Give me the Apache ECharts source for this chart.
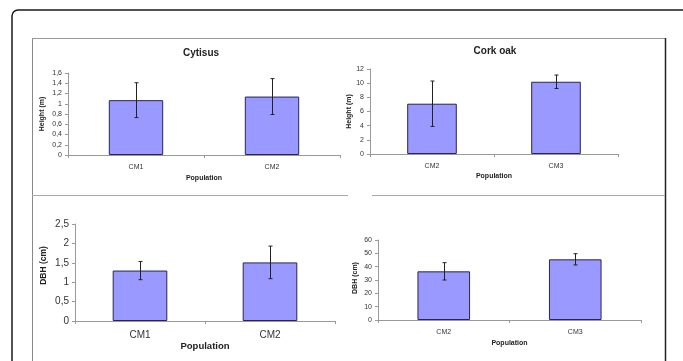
<!DOCTYPE html>
<html><head><meta charset="utf-8">
<script src="https://cdn.jsdelivr.net/npm/echarts@6/dist/echarts.min.js"></script>
<style>html,body{margin:0;padding:0;background:#fff}#c{width:683px;height:361px}</style>
</head><body><div id="c"></div>
<script>
// Data
const titles = ['Cytisus', 'Cork oak', '', ''];
const cats1 = ['CM1', 'CM2'];
const cats2 = ['CM2', 'CM3'];
const cats3 = ['CM1', 'CM2'];
const cats4 = ['CM2', 'CM3'];
const height1 = [1.07, 1.14];
const heightErr1 = [0.34, 0.35];
const height2 = [7.1, 10.2];
const heightErr2 = [3.2, 0.95];
const dbh3 = [1.30, 1.51];
const dbhErr3 = [0.235, 0.42];
const dbh4 = [36.5, 45.5];
const dbhErr4 = [6.5, 4.2];
const yNames = ['Height (m)', 'Height (m)', 'DBH (cm)', 'DBH (cm)'];
const xName = 'Population';

const chart = echarts.init(document.getElementById('c'));
const F = 'Liberation Sans, Arial, sans-serif';
const comma = v => String(v).replace('.', ',');

const grids = [
  {left: 68, right: 343, top: 73, bottom: 206},
  {left: 370, right: 65, top: 69, bottom: 207},
  {left: 75, right: 348, top: 224, bottom: 40},
  {left: 378, right: 42, top: 240, bottom: 41}
];
const cats = [cats1, cats2, cats3, cats4];
const vals = [height1, height2, dbh3, dbh4];
const errs = [heightErr1, heightErr2, dbhErr3, dbhErr4];
const yCfg = [
  {max: 1.6, interval: 0.2, fmt: comma, fs: 7, nameFs: 7, nameGap: 22, namePad: 0, xfs: 7, xNameFs: 7, xNameGap: 20, barW: '40%'},
  {max: 12, interval: 2, fmt: v => v, fs: 7, nameFs: 7, nameGap: 17, namePad: 0, xfs: 7, xNameFs: 7, xNameGap: 19, barW: '40%'},
  {max: 2.5, interval: 0.5, fmt: comma, fs: 10, nameFs: 8.5, nameGap: 27, namePad: 14, xfs: 10, xNameFs: 9.5, xNameGap: 13, barW: '42%'},
  {max: 60, interval: 10, fmt: v => v, fs: 7, nameFs: 7, nameGap: 19, namePad: 4, xfs: 7, xNameFs: 7, xNameGap: 20, barW: '40%'}
];

const xAxis = [], yAxis = [], series = [];
for (let i = 0; i < 4; i++) {
  const c = yCfg[i];
  xAxis.push({
    type: 'category', gridIndex: i, data: cats[i],
    name: xName, nameLocation: 'middle', nameGap: c.xNameGap,
    nameTextStyle: {fontFamily: F, fontSize: c.xNameFs, fontWeight: 'bold', color: '#222'},
    axisLine: {lineStyle: {color: '#999', width: 1}},
    axisTick: {show: true, alignWithLabel: false, length: 3, lineStyle: {color: '#999'}},
    axisLabel: {fontFamily: F, fontSize: c.xfs, color: '#333', margin: 9}
  });
  yAxis.push({
    type: 'value', gridIndex: i, min: 0, max: c.max, interval: c.interval,
    name: yNames[i], nameLocation: 'middle', nameGap: c.nameGap,
    nameTextStyle: {fontFamily: F, fontSize: c.nameFs, fontWeight: 'bold', color: '#222', padding: [0, 0, 0, c.namePad]},
    axisLine: {show: true, lineStyle: {color: '#999', width: 1}},
    axisTick: {show: true, length: 3, lineStyle: {color: '#999'}},
    axisLabel: {fontFamily: F, fontSize: c.fs, color: '#333', margin: 6, formatter: c.fmt},
    splitLine: {show: false}
  });
  series.push({
    type: 'bar', xAxisIndex: i, yAxisIndex: i, data: vals[i], barWidth: c.barW,
    itemStyle: {color: '#9999FF', borderColor: '#262650', borderWidth: 1},
    silent: true
  });
  const ed = vals[i].map((v, k) => [k, v - errs[i][k], v + errs[i][k]]);
  series.push({
    type: 'custom', xAxisIndex: i, yAxisIndex: i, data: ed, silent: true, z: 5,
    renderItem: function (params, api) {
      const x = api.value(0);
      const lo = api.coord([x, api.value(1)]);
      const hi = api.coord([x, api.value(2)]);
      const cx = Math.round(lo[0]) + 0.5;
      const cap = 2;
      const st = {stroke: '#222', lineWidth: 1};
      return {type: 'group', children: [
        {type: 'line', shape: {x1: cx, y1: lo[1], x2: cx, y2: hi[1]}, style: st},
        {type: 'line', shape: {x1: cx - cap, y1: lo[1], x2: cx + cap, y2: lo[1]}, style: st},
        {type: 'line', shape: {x1: cx - cap, y1: hi[1], x2: cx + cap, y2: hi[1]}, style: st}
      ]};
    }
  });
}

chart.setOption({
  animation: false,
  backgroundColor: '#fff',
  title: [
    {text: titles[0], left: 196, top: 43, textAlign: 'center', textStyle: {fontFamily: F, fontSize: 10, fontWeight: 'bold', color: '#222'}},
    {text: titles[1], left: 490, top: 41, textAlign: 'center', textStyle: {fontFamily: F, fontSize: 10, fontWeight: 'bold', color: '#222'}}
  ],
  grid: grids,
  xAxis: xAxis,
  yAxis: yAxis,
  series: series,
  graphic: [
    {type: 'rect', shape: {x: 12, y: 10, width: 680, height: 370, r: 6}, style: {fill: 'none', stroke: '#1a1a1a', lineWidth: 1.5}, silent: true},
    {type: 'line', shape: {x1: 32.5, y1: 38, x2: 32.5, y2: 361}, style: {stroke: '#888', lineWidth: 1}, silent: true},
    {type: 'line', shape: {x1: 32, y1: 38.5, x2: 666, y2: 38.5}, style: {stroke: '#999', lineWidth: 1}, silent: true},
    {type: 'line', shape: {x1: 665.5, y1: 38, x2: 665.5, y2: 361}, style: {stroke: '#222', lineWidth: 1.5}, silent: true},
    {type: 'line', shape: {x1: 32, y1: 195.5, x2: 348, y2: 195.5}, style: {stroke: '#aaa', lineWidth: 1}, silent: true},
    {type: 'line', shape: {x1: 372, y1: 195.5, x2: 665, y2: 195.5}, style: {stroke: '#aaa', lineWidth: 1}, silent: true}
  ]
});
</script></body></html>
